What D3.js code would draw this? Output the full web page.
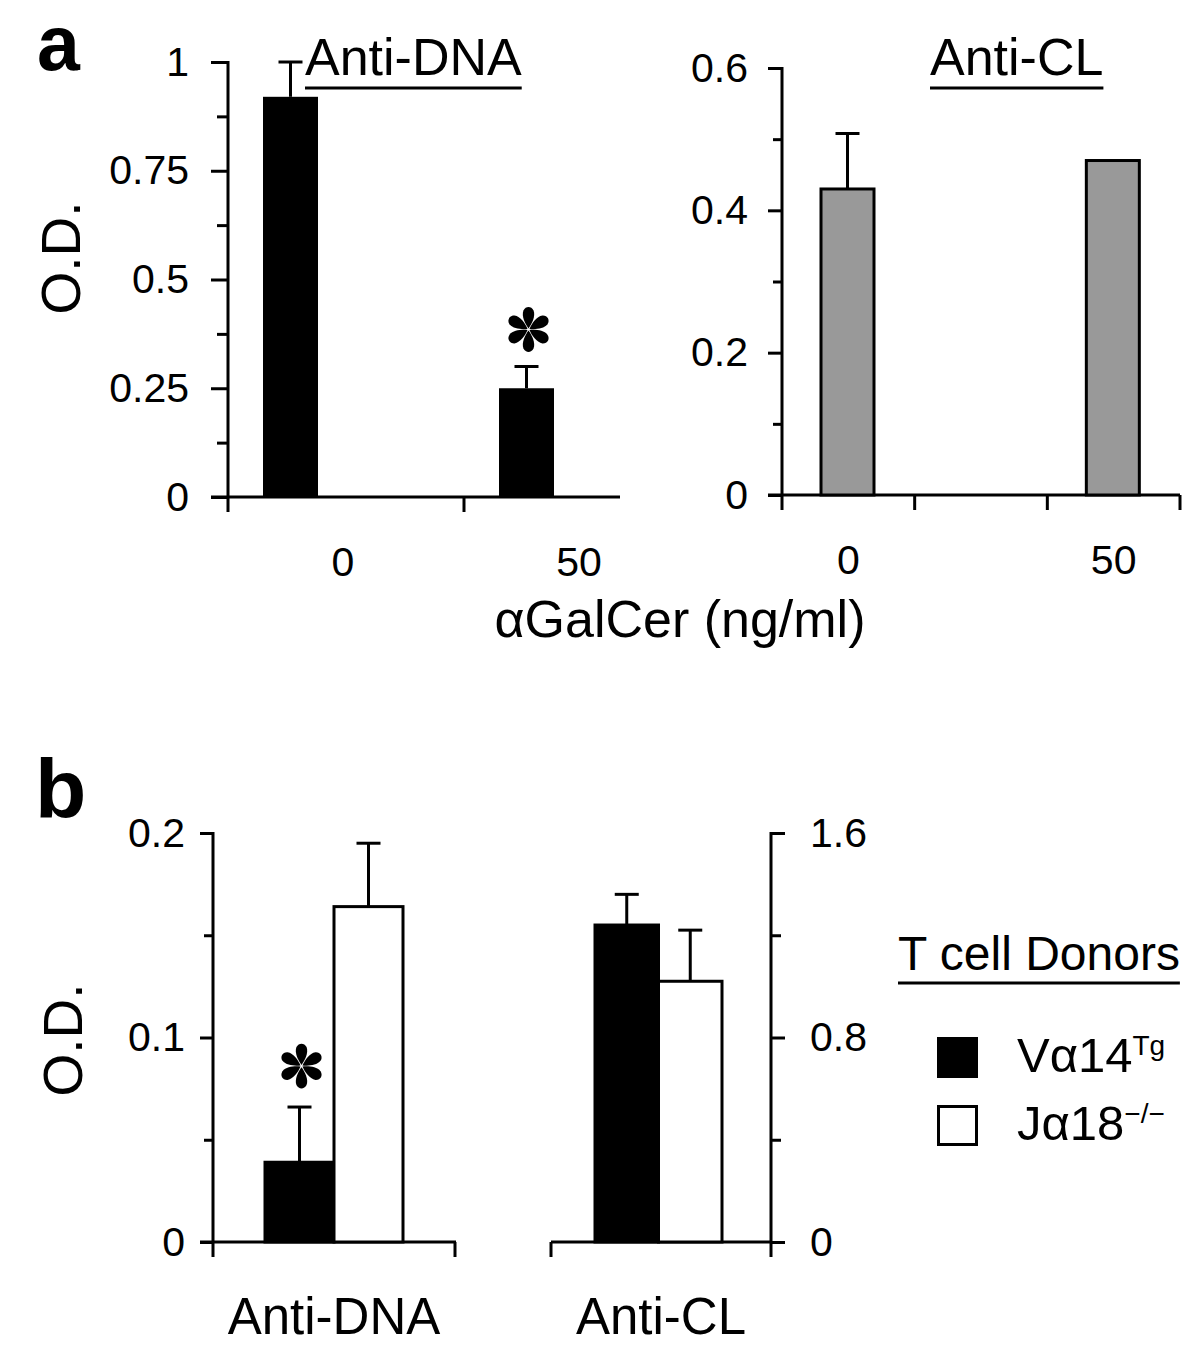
<!DOCTYPE html>
<html>
<head>
<meta charset="utf-8">
<script src="https://cdn.jsdelivr.net/npm/d3@7"></script>
<style>
  body { margin: 0; background: #fff; }
  text { font-family: "Liberation Sans", Arial, sans-serif; fill: #000; }
  .panel-letter { font-family: "Liberation Sans Narrow", "Arial Narrow", "Liberation Sans", sans-serif; font-weight: bold; }
</style>
</head>
<body>
<div id="chart"></div>
<script>
// panel a: dose of aGalCer
const doseCats = ["0", "50"];
const doseCatsCL = ["0", "mid", "50"];
const antiDnaA = [0.92, 0.25];
const antiDnaAErr = [0.08, 0.05];
const antiClA = [0.43, 0.47];
const antiClAErr = [0.078, 0];
const yTicksA1 = [0, 0.25, 0.5, 0.75, 1];
const yMinorA1 = [0.125, 0.375, 0.625, 0.875];
const yTicksA2 = [0, 0.2, 0.4, 0.6];
const yMinorA2 = [0.1, 0.3, 0.5];

// panel b: T cell donors
const donors = ["Vα14Tg", "Jα18−/−"];
const antiDnaB = [0.039, 0.164];
const antiDnaBErr = [0.027, 0.031];
const antiClB = [1.24, 1.02];
const antiClBErr = [0.12, 0.2];
const yTicksB1 = [0, 0.1, 0.2];
const yMinorB1 = [0.05, 0.15];
const yTicksB2 = [0, 0.8, 1.6];
const yMinorB2 = [0.4, 1.2];

const svg = d3.select("#chart").append("svg")
  .attr("width", 1200).attr("height", 1354)
  .style("background", "#fff");

const LW = 3;
const TICK_FONT = "41px";
const fmt = d => d3.format("")(d);

function line(g, x1, y1, x2, y2) {
  g.append("line").attr("x1", x1).attr("y1", y1).attr("x2", x2).attr("y2", y2)
    .attr("stroke", "#000").attr("stroke-width", LW);
}

function yAxis(g, y, major, minor, side, x0, majorLen, minorLen, pad, bottomExt) {
  const ax = (side === "left" ? d3.axisLeft(y) : d3.axisRight(y))
    .tickValues(major).tickSize(majorLen).tickPadding(pad).tickFormat(fmt);
  const a = g.append("g").attr("transform", "translate(" + x0 + ",0)").call(ax);
  a.select(".domain").remove();
  a.selectAll("line").attr("stroke-width", LW);
  a.selectAll("text").style("font-size", TICK_FONT).attr("font-family", null);
  const m = (side === "left" ? d3.axisLeft(y) : d3.axisRight(y))
    .tickValues(minor).tickSize(minorLen).tickFormat("");
  const b = g.append("g").attr("transform", "translate(" + x0 + ",0)").call(m);
  b.select(".domain").remove();
  b.selectAll("line").attr("stroke-width", LW);
  const r = y.range();
  line(g, x0, r[1] - 1, x0, r[0] + bottomExt);
}

function errBars(g, xs, y, vals, errs) {
  vals.forEach((v, i) => {
    if (!errs[i]) return;
    line(g, xs[i], y(v), xs[i], y(v + errs[i]));
    line(g, xs[i] - 12, y(v + errs[i]), xs[i] + 12, y(v + errs[i]));
  });
}

function asterisk(g, cx, cy) {
  const a = g.append("g").attr("transform", "translate(" + cx + "," + cy + ") scale(1.12)");
  d3.range(6).forEach(k => {
    a.append("path")
      .attr("d", "M0,-1 C-3,-5 -6.5,-12 -4.5,-17 C-2.5,-21 2.5,-21 4.5,-17 C6.5,-12 3,-5 0,-1 Z")
      .attr("transform", "rotate(" + (k * 60) + ")")
      .attr("fill", "#000");
  });
}

function underlined(g, txt, x, y, size, anchor) {
  const t = g.append("text").attr("x", x).attr("y", y)
    .attr("text-anchor", anchor || "start").style("font-size", size + "px").text(txt);
  const w = t.node().getComputedTextLength();
  const x0 = anchor === "middle" ? x - w / 2 : x;
  g.append("line").attr("x1", x0).attr("x2", x0 + w).attr("y1", y + 13).attr("y2", y + 13)
    .attr("stroke", "#000").attr("stroke-width", 3);
}

// ---------- panel a ----------
const pa = svg.append("g");
pa.append("text").attr("class", "panel-letter").attr("x", 37).attr("y", 70)
  .style("font-size", "77px").text("a");

// left: anti-DNA
const xA1 = d3.scaleBand().domain(doseCats).range([228, 700]);
const yA1 = d3.scaleLinear().domain([0, 1]).range([497, 62]);
yAxis(pa, yA1, yTicksA1, yMinorA1, "left", 228, 17, 11, 22, 15);
line(pa, 211, yA1(0), 620, yA1(0));
doseCats.forEach(c => { if (xA1(c) > 228) line(pa, xA1(c), yA1(0), xA1(c), yA1(0) + 15); });
const xlA1 = pa.append("g").attr("transform", "translate(0," + yA1(0) + ")")
  .call(d3.axisBottom(xA1).tickSize(0).tickPadding(50));
xlA1.select(".domain").remove();
xlA1.selectAll("text").style("font-size", TICK_FONT).attr("font-family", null).attr("dx", -3);
const bwA1 = 55, offA1 = 35;
pa.selectAll(".barA1").data(antiDnaA).enter().append("rect")
  .attr("x", (d, i) => xA1(doseCats[i]) + offA1)
  .attr("width", bwA1)
  .attr("y", d => yA1(d))
  .attr("height", d => yA1(0) - yA1(d))
  .attr("fill", "#000");
const cxA1 = doseCats.map(c => xA1(c) + offA1 + bwA1 / 2);
errBars(pa, cxA1, yA1, antiDnaA, antiDnaAErr);
asterisk(pa, cxA1[1] + 2, yA1(antiDnaA[1] + antiDnaAErr[1]) - 37);
underlined(pa, "Anti-DNA", 305, 75, 52);

// right: anti-CL
const xA2 = d3.scaleBand().domain(doseCatsCL).range([782, 1180]);
const yA2 = d3.scaleLinear().domain([0, 0.6]).range([495, 68]);
yAxis(pa, yA2, yTicksA2, yMinorA2, "left", 782, 14, 9, 20, 15);
line(pa, 768, yA2(0), 1180, yA2(0));
doseCatsCL.slice(1).forEach(c => line(pa, xA2(c), yA2(0), xA2(c), yA2(0) + 15));
line(pa, 1180, yA2(0), 1180, yA2(0) + 15);
const xlA2 = pa.append("g").attr("transform", "translate(0," + yA2(0) + ")")
  .call(d3.axisBottom(xA2).tickSize(0).tickPadding(50).tickFormat(d => d === "mid" ? "" : d));
xlA2.select(".domain").remove();
xlA2.selectAll("text").style("font-size", TICK_FONT).attr("font-family", null);
const bwA2 = 53, offA2 = 39;
const clCats = ["0", "50"];
pa.selectAll(".barA2").data(antiClA).enter().append("rect")
  .attr("x", (d, i) => xA2(clCats[i]) + offA2)
  .attr("width", bwA2)
  .attr("y", d => yA2(d))
  .attr("height", d => yA2(0) - yA2(d))
  .attr("fill", "#999").attr("stroke", "#000").attr("stroke-width", LW);
errBars(pa, clCats.map(c => xA2(c) + offA2 + bwA2 / 2), yA2, antiClA, antiClAErr);
underlined(pa, "Anti-CL", 930, 75, 52);

pa.append("text").attr("transform", "translate(80,258) rotate(-90)")
  .attr("text-anchor", "middle").style("font-size", "55px").text("O.D.");
pa.append("text").attr("x", 680).attr("y", 637).attr("text-anchor", "middle")
  .style("font-size", "52px").text("αGalCer (ng/ml)");

// ---------- panel b ----------
const pb = svg.append("g");
pb.append("text").attr("class", "panel-letter").attr("x", 35).attr("y", 818)
  .style("font-size", "84px").text("b");

const yB1 = d3.scaleLinear().domain([0, 0.2]).range([1242, 833]);
const yB2 = d3.scaleLinear().domain([0, 1.6]).range([1242, 833]);

// left: anti-DNA
const gxB1 = d3.scaleBand().domain(["Anti-DNA"]).range([213, 455]);
const xB1 = d3.scaleBand().domain(donors).range([265, 403]);
yAxis(pb, yB1, yTicksB1, yMinorB1, "left", 213, 13, 9, 15, 15);
line(pb, 200, yB1(0), 456, yB1(0));
line(pb, 455, yB1(0), 455, yB1(0) + 15);
pb.selectAll(".barB1").data(antiDnaB).enter().append("rect")
  .attr("x", (d, i) => xB1(donors[i]))
  .attr("width", xB1.bandwidth())
  .attr("y", d => yB1(d))
  .attr("height", d => yB1(0) - yB1(d))
  .attr("fill", (d, i) => i === 0 ? "#000" : "#fff")
  .attr("stroke", "#000").attr("stroke-width", LW);
const cxB1 = donors.map(s => xB1(s) + xB1.bandwidth() / 2);
errBars(pb, cxB1, yB1, antiDnaB, antiDnaBErr);
asterisk(pb, cxB1[0] + 2, yB1(antiDnaB[0] + antiDnaBErr[0]) - 41);

// right: anti-CL
const gxB2 = d3.scaleBand().domain(["Anti-CL"]).range([551, 771]);
const xB2 = d3.scaleBand().domain(donors).range([595, 722]);
yAxis(pb, yB2, yTicksB2, yMinorB2, "right", 771, 14, 10, 25, 15);
line(pb, 551, yB2(0), 771, yB2(0));
line(pb, 551, yB2(0), 551, yB2(0) + 15);
pb.selectAll(".barB2").data(antiClB).enter().append("rect")
  .attr("x", (d, i) => xB2(donors[i]))
  .attr("width", xB2.bandwidth())
  .attr("y", d => yB2(d))
  .attr("height", d => yB2(0) - yB2(d))
  .attr("fill", (d, i) => i === 0 ? "#000" : "#fff")
  .attr("stroke", "#000").attr("stroke-width", LW);
errBars(pb, donors.map(s => xB2(s) + xB2.bandwidth() / 2), yB2, antiClB, antiClBErr);

[gxB1, gxB2].forEach(gx => {
  const a = pb.append("g").attr("transform", "translate(0," + yB1(0) + ")")
    .call(d3.axisBottom(gx).tickSize(0).tickPadding(56));
  a.select(".domain").remove();
  a.selectAll("text").style("font-size", "51px").attr("font-family", null);
});

pb.append("text").attr("transform", "translate(82,1040) rotate(-90)")
  .attr("text-anchor", "middle").style("font-size", "55px").text("O.D.");

// legend
underlined(pb, "T cell Donors", 898, 970, 48);
const lg = pb.selectAll(".lg").data(donors).enter().append("g")
  .attr("transform", (d, i) => "translate(937," + (1037 + i * 68) + ")");
lg.append("rect").attr("x", 1.5).attr("y", 1.5).attr("width", 38).attr("height", 38)
  .attr("fill", (d, i) => i === 0 ? "#000" : "#fff")
  .attr("stroke", "#000").attr("stroke-width", LW);
const lt = lg.append("text").attr("x", 80).attr("y", 35).style("font-size", "49px");
lt.append("tspan").text(d => d.slice(0, 4));
lt.append("tspan").attr("dy", -17).style("font-size", "28px").text(d => d.slice(4));
</script>
</body>
</html>
